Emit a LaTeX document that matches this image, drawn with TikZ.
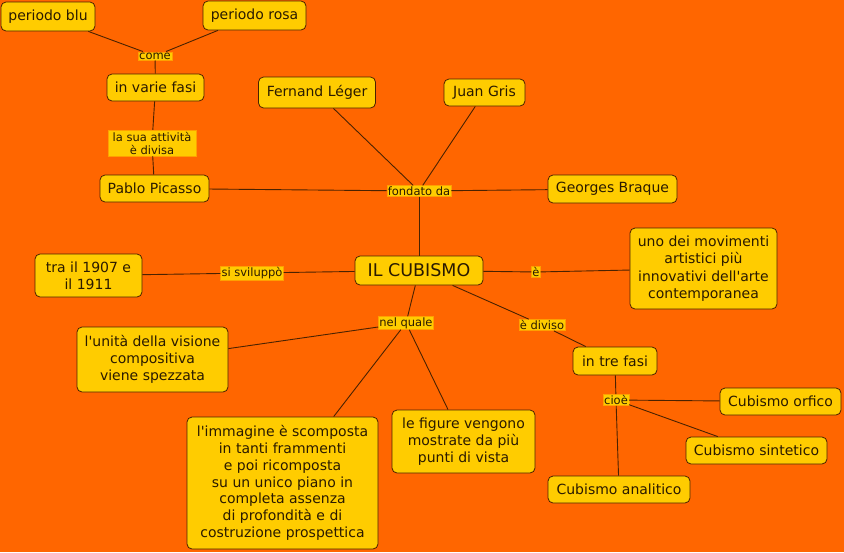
\documentclass[tikz,border=0pt]{standalone}
\usepackage{fontspec}
\setmainfont{DejaVu Sans}[Ligatures=TeXOff]
\definecolor{bgc}{HTML}{FF6600}
\definecolor{boxc}{HTML}{FFCC00}
\definecolor{linec}{HTML}{4A2200}
\definecolor{txtc}{HTML}{2A1A00}
\definecolor{labb}{HTML}{FFA000}
\tikzset{
  box/.style={draw=linec, fill=boxc, rounded corners=5pt, line width=0.8pt, text=txtc, align=center,
    font=\fontsize{14}{16.8}\selectfont, inner sep=0pt},
  lab/.style={fill=boxc, draw=labb, line width=0.4pt, text=txtc, align=center,
    font=\fontsize{11.5}{13}\selectfont, inner sep=1pt},
  conn/.style={draw=linec, line width=0.9pt}
}
\begin{document}
\begin{tikzpicture}[x=1pt,y=-1pt]
\fill[bgc] (0,0) rectangle (844,552);
\useasboundingbox (0,0) rectangle (844,552);
% concepts
\node[box, minimum width=94pt, minimum height=29pt] (blu) at (48,16.5) {periodo blu};
\node[box, minimum width=103pt, minimum height=29pt] (rosa) at (254.5,15.5) {periodo rosa};
\node[box, minimum width=97pt, minimum height=27pt] (fasi) at (155.5,87.5) {in varie fasi};
\node[box, minimum width=109pt, minimum height=27pt] (picasso) at (154.5,188.5) {Pablo Picasso};
\node[box, minimum width=117pt, minimum height=31pt] (leger) at (317,92.5) {Fernand Léger};
\node[box, minimum width=81pt, minimum height=27pt] (gris) at (484.5,92.5) {Juan Gris};
\node[box, minimum width=129pt, minimum height=28pt] (braque) at (612.5,189) {Georges Braque};
\node[box, minimum width=128pt, minimum height=29pt, font=\fontsize{17.5}{20}\selectfont] (cub) at (419,270.5) {IL CUBISMO};
\node[box, minimum width=107pt, minimum height=43pt] (date) at (88.5,275.5) {tra il 1907 e\\il 1911};
\node[box, minimum width=147pt, minimum height=81pt, font=\fontsize{14}{17.3}\selectfont] (uno) at (703.5,268.5) {uno dei movimenti\\artistici più\\innovativi dell'arte\\contemporanea};
\node[box, minimum width=151pt, minimum height=65pt] (unita) at (152.5,359.5) {l'unità della visione\\compositiva\hspace*{9pt}\\viene spezzata};
\node[box, minimum width=84pt, minimum height=28pt] (tre) at (615,361) {in tre fasi};
\node[box, minimum width=121pt, minimum height=27pt] (orfico) at (780.5,401.5) {Cubismo orfico};
\node[box, minimum width=141pt, minimum height=27pt] (sint) at (756.5,450.5) {Cubismo sintetico};
\node[box, minimum width=142pt, minimum height=27pt] (anal) at (619,489.5) {Cubismo analitico};
\node[box, minimum width=191pt, minimum height=132pt] (imm) at (282.5,483) {l'immagine è scomposta\\in tanti frammenti\\e poi ricomposta\\su un unico piano in\\completa assenza\\di profondità e di\\costruzione prospettica};
\node[box, minimum width=143pt, minimum height=63pt] (fig) at (463.5,441.5) {le figure vengono\\mostrate da più\\punti di vista};
% linking phrases
\node[lab] (come) at (155,56) {come};
\node[lab, minimum width=88pt, minimum height=26pt] (attiv) at (152,143) {la sua attività\\è divisa};
\node[lab] (fondato) at (419,191) {fondato da};
\node[lab] (svil) at (252,273) {si sviluppò};
\node[lab] (e) at (536,272) {è};
\node[lab] (nel) at (406,323) {nel quale};
\node[lab] (diviso) at (542,325) {è diviso};
\node[lab] (cioe) at (616,400) {cioè};
% connectors
\draw[conn] (blu) -- (come);
\draw[conn] (rosa) -- (come);
\draw[conn] (come) -- (fasi);
\draw[conn] (fasi) -- (attiv);
\draw[conn] (attiv) -- (picasso);
\draw[conn] (picasso) -- (fondato);
\draw[conn] (leger) -- (fondato);
\draw[conn] (gris) -- (fondato);
\draw[conn] (braque) -- (fondato);
\draw[conn] (fondato) -- (cub);
\draw[conn] (date) -- (svil);
\draw[conn] (svil) -- (cub);
\draw[conn] (cub) -- (e);
\draw[conn] (e) -- (uno);
\draw[conn] (cub) -- (nel);
\draw[conn] (nel) -- (unita);
\draw[conn] (nel) -- (imm);
\draw[conn] (nel) -- (fig);
\draw[conn] (cub) -- (diviso);
\draw[conn] (diviso) -- (tre);
\draw[conn] (tre) -- (cioe);
\draw[conn] (cioe) -- (orfico);
\draw[conn] (cioe) -- (sint);
\draw[conn] (cioe) -- (anal);
\end{tikzpicture}
\end{document}
